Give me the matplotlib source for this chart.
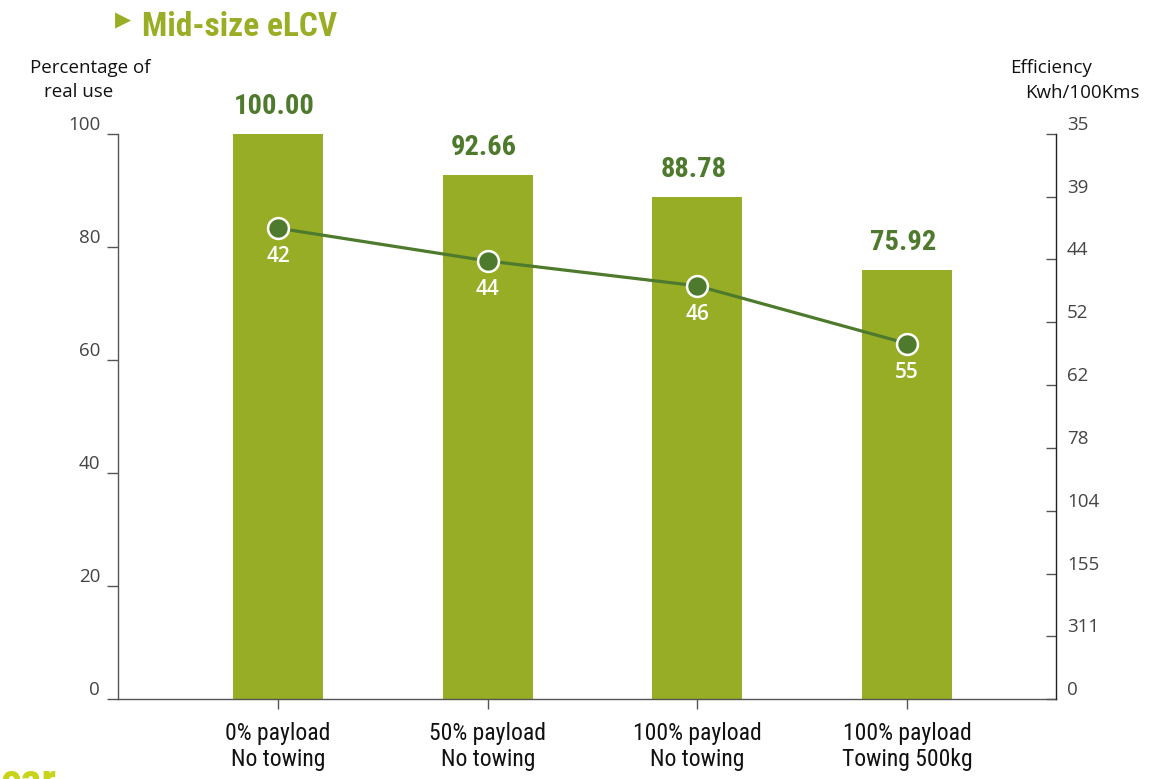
import matplotlib
matplotlib.use("Agg")
import matplotlib.pyplot as plt
from matplotlib import font_manager as fm
import numpy as np

# ---------------- data ----------------
categories = ["0% payload\nNo towing", "50% payload\nNo towing",
              "100% payload\nNo towing", "100% payload\nTowing 500kg"]
real_use_pct = [100.00, 92.66, 88.78, 75.92]
efficiency_labels = ["42", "44", "46", "55"]
efficiency_pos = [83.3, 77.5, 73.1, 62.9]   # line position on the % scale
left_ticks = [0, 20, 40, 60, 80, 100]
right_tick_labels = ["0", "311", "155", "104", "78", "62", "52", "44", "39", "35"]

# ---------------- fonts ----------------
names = {f.name for f in fm.fontManager.ttflist}
COND = None
for cand in ["Roboto Condensed", "Liberation Sans Narrow", "Open Sans Condensed",
             "DejaVu Sans Condensed", "Noto Sans Condensed"]:
    if cand in names:
        COND = [cand, "DejaVu Sans"]
        break
if COND is None:
    COND = ["DejaVu Sans"]
SANS = ["Open Sans", "DejaVu Sans"]
SCALE = 1.0 if COND[0] != "DejaVu Sans" else 0.82

BAR = "#97ad25"
DARK = "#4d7a2c"
TITLE = "#9aad24"
AXC = "#555555"

W, H = 1176, 779
fig = plt.figure(figsize=(W / 100, H / 100), dpi=100)
x_left, x_right, y_bot, y_top = 118.3, 1056, 699.3, 133.7
ax = fig.add_axes([x_left / W, (H - y_bot) / H, (x_right - x_left) / W, (y_bot - y_top) / H])

x = np.arange(len(categories))
ax.bar(x, real_use_pct, width=0.43, color=BAR, zorder=2)
ax.set_xlim(-0.7616, 3.710)
ax.set_ylim(0, 100)

for xi, v in zip(x, real_use_pct):
    ax.annotate(f"{v:.2f}", (xi, v), xytext=(-3, 10), textcoords="offset points",
                ha="center", va="bottom", fontsize=20.5 * SCALE, fontweight="bold",
                color=DARK, family=COND)

# line
ax.plot(x, efficiency_pos, color=DARK, lw=2.3, zorder=3, marker="o",
        markersize=15, markerfacecolor=DARK, markeredgecolor="white",
        markeredgewidth=1.8)
for xi, yv, lab in zip(x, efficiency_pos, efficiency_labels):
    ax.annotate(lab, (xi, yv), xytext=(0, -13), textcoords="offset points",
                ha="center", va="top", fontsize=15, color="white", family=SANS,
                fontweight="semibold", zorder=4)

# spines / ticks
for s in ["top", "right"]:
    ax.spines[s].set_visible(False)
for s in ["left", "bottom"]:
    ax.spines[s].set_color(AXC)
    ax.spines[s].set_linewidth(1.0)

ax.set_yticks(left_ticks)
ax.set_yticklabels([str(t) for t in left_ticks], family=SANS, fontsize=13.5, color="#444444")
ax.tick_params(axis="y", direction="out", length=8, width=1, color=AXC, pad=5)
for lab in ax.get_yticklabels():
    lab.set_verticalalignment("bottom")

ax.set_xticks(x)
ax.set_xticklabels(categories, family=COND, fontsize=17 * SCALE,
                   color="#111111", linespacing=1.2)
ax.tick_params(axis="x", direction="out", length=7, width=1, color=AXC, pad=9)

ax2 = ax.twinx()
ax2.set_ylim(0, 100)
for s in ["top", "left", "bottom"]:
    ax2.spines[s].set_visible(False)
ax2.spines["right"].set_color("#222222")
ax2.spines["right"].set_linewidth(1.0)
ax2.set_yticks(np.linspace(0, 100, len(right_tick_labels)))
ax2.set_yticklabels(right_tick_labels, family=SANS, fontsize=13.5, color="#444444")
ax2.tick_params(axis="y", direction="in", length=7, width=1, color=AXC, pad=8)
for lab in ax2.get_yticklabels():
    lab.set_verticalalignment("bottom")

# axis titles
fig.text(90 / W, 1 - 68 / H, "Percentage of", ha="center", va="center",
         fontsize=13.5, color="#111111", family=SANS)
fig.text(79 / W, 1 - 92 / H, "real use", ha="center", va="center",
         fontsize=13.5, color="#111111", family=SANS)
fig.text(1010 / W, 1 - 68 / H, "Efficiency", ha="left", va="center",
         fontsize=13.5, color="#111111", family=SANS)
fig.text(1025 / W, 1 - 93 / H, "Kwh/100Kms", ha="left", va="center",
         fontsize=13.5, color="#111111", family=SANS)

# title
fig.text(115 / W, 1 - 20 / H, "\u25B6", ha="left", va="center", fontsize=15,
         color=TITLE, family=["DejaVu Sans"])
fig.text(142 / W, 1 - 27 / H, "Mid-size eLCV", ha="left", va="center",
         fontsize=24 * SCALE, fontweight="bold", color=TITLE, family=COND)

# logo fragment bottom-left
fig.text(0 / W, 1 - 762 / H, "car", ha="left", va="top", fontsize=32,
         fontweight="bold", color="#c8d41a", family=COND)

fig.savefig("out.png", dpi=100)
